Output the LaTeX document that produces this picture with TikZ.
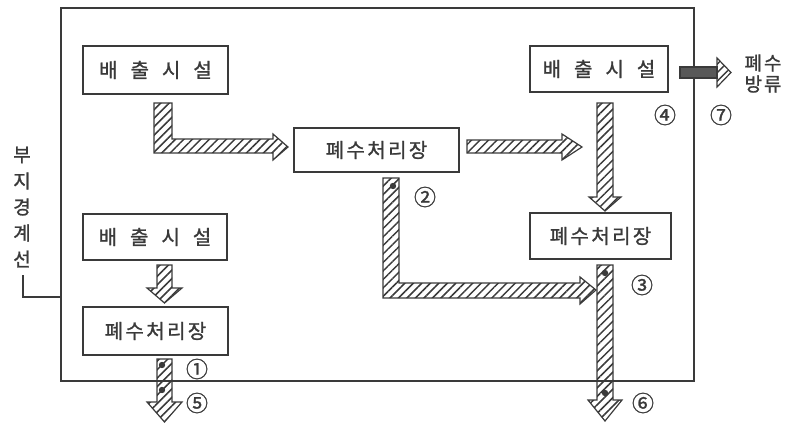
\documentclass[tikz,border=0pt]{standalone}
\usepackage{fontspec}
\setmainfont{Noto Sans CJK KR}[FakeBold=1.2]
\usetikzlibrary{patterns.meta}
\definecolor{ink}{HTML}{3A3A3A}
\tikzset{
  box/.style={draw=ink, line width=1.3pt, inner sep=0pt, font=\fontsize{20}{22}\selectfont, text=ink},
  fat/.style={draw=ink, line width=1.2pt, line join=miter, pattern={Lines[angle=45,distance=6pt,line width=1.5pt]}, pattern color=ink},
  darkfat/.style={draw=ink, line width=1.2pt, fill=ink!85},
  num/.style={font=\fontsize{22}{24}\selectfont, text=ink, inner sep=0pt},
  lbl/.style={font=\fontsize{19}{21}\selectfont, text=ink, inner sep=0pt},
  dot/.style={fill=ink, draw=none},
}
\newcommand{\wsp}{\hspace{0.12em}}
\newcommand{\wsb}{\hspace{0.65em}}
\begin{document}
\begin{tikzpicture}[x=1pt,y=-1pt]
\useasboundingbox (0,0) rectangle (789,425);
% site boundary
\draw[ink, line width=1.3pt] (61,8) rectangle (694,381);
\coordinate (bl) at (61,297);
\coordinate (bt) at (23,275);
\draw[ink, line width=1.1pt] (bt) |- (bl);
\foreach \c/\y in {부/155,지/181,경/207,계/233,선/259}
  \node[lbl] at (22,\y) {\c};
% boxes
\node[box, minimum width=145pt, minimum height=48pt] (A) at (155.5,70) {배\wsb 출\wsb 시\wsb 설};
\node[box, minimum width=165pt, minimum height=44pt] (B) at (376.5,150) {폐\wsp 수\wsp 처\wsp 리\wsp 장};
\node[box, minimum width=138pt, minimum height=46pt] (C) at (599,69) {배\wsb 출\wsb 시\wsb 설};
\node[box, minimum width=141pt, minimum height=46pt] (D) at (600.5,236) {폐\wsp 수\wsp 처\wsp 리\wsp 장};
\node[box, minimum width=144pt, minimum height=46pt] (E) at (155,237) {배\wsb 출\wsb 시\wsb 설};
\node[box, minimum width=145pt, minimum height=48pt] (F) at (155.5,331) {폐\wsp 수\wsp 처\wsp 리\wsp 장};
% fat arrows
\draw[fat] (154,103) -- (172,103) -- (172,139) -- (273,139) -- (273,134) -- (288,147) -- (273,160) -- (273,153) -- (154,153) -- cycle;
\draw[fat] (467,140) -- (562,140) -- (562,134) -- (582,147) -- (562,160) -- (562,153) -- (467,153) -- cycle;
\draw[fat] (597,103) -- (613,103) -- (613,197) -- (621,197) -- (605,211) -- (589,197) -- (597,197) -- cycle;
\draw[fat] (383,178) -- (399,178) -- (399,283) -- (580,283) -- (580,277) -- (596,290) -- (580,304) -- (580,298) -- (383,298) -- cycle;
\draw[fat] (597,265) -- (613,265) -- (613,400) -- (622,400) -- (605,421) -- (588,400) -- (597,400) -- cycle;
\draw[fat] (157,265) -- (172,265) -- (172,288) -- (182,288) -- (164.5,303) -- (147,288) -- (157,288) -- cycle;
\draw[fat] (157,359) -- (172,359) -- (172,402) -- (182,402) -- (164.5,422) -- (147,402) -- (157,402) -- cycle;
\draw[darkfat] (680,67) -- (717,67) -- (717,78) -- (680,78) -- cycle;
\draw[fat] (717,67) -- (717,58) -- (731,72.5) -- (717,87) -- (717,78) -- cycle;
% dots
\foreach \p in {(393,186),(605,273),(605,393),(162,365),(162,390)}
  \fill[dot] \p circle (3.2pt);
% labels
\node[lbl] (o1) at (763,63) {폐\hspace{0.1em}수};
\node[lbl] (o2) at (763,84) {방\hspace{0.1em}류};
\node[num] at (197,369) {①};
\node[num] at (425,197) {②};
\node[num] at (642,285) {③};
\node[num] at (665,115) {④};
\node[num] at (197,403) {⑤};
\node[num] at (643,403) {⑥};
\node[num] at (721,115) {⑦};
\end{tikzpicture}
\end{document}
